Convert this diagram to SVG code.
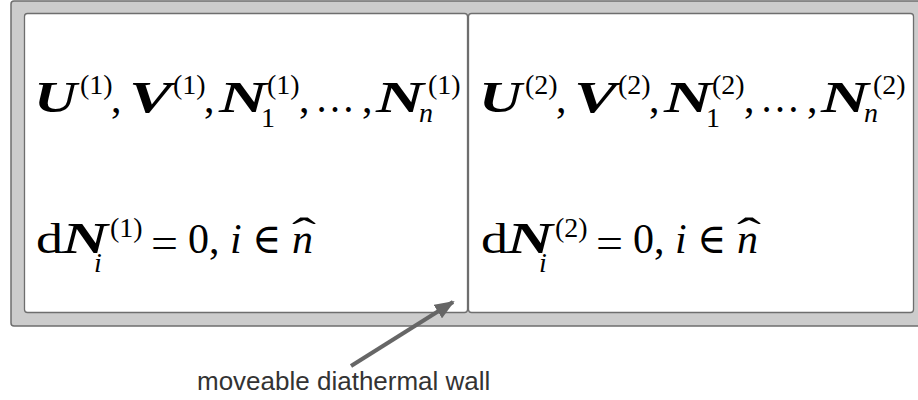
<svg xmlns="http://www.w3.org/2000/svg" width="918" height="400" viewBox="0 0 918 400">
<defs>
<style>
.frame{fill:#cccccc;stroke:#6e6e6e;stroke-width:1.5}
.box{fill:#ffffff;stroke:#6e6e6e;stroke-width:1.3}
.m{font-family:"Liberation Serif","DejaVu Serif",serif;fill:#000}
.bi{font-weight:bold;font-style:italic;font-size:44px}
.rm{font-size:42px}
.it{font-style:italic;font-size:42px}
.nost{font-style:normal}
.sup{font-size:28px}
.sit{font-style:italic;font-size:28px}
.lbl{font-family:"Liberation Sans",Arial,sans-serif;font-size:26px;fill:#333}
.arrow{stroke:#666;stroke-width:4;fill:none}
</style>
<marker id="ah" markerUnits="userSpaceOnUse" markerWidth="22" markerHeight="16" refX="18" refY="8" orient="auto">
<path d="M0,0 L20,8 L0,16 Z" fill="#666"/>
</marker>
</defs>
<g id="container">
<rect class="frame" x="11" y="1" width="925" height="325" rx="3"/>
</g>
<g id="subsystem1">
<rect class="box" x="24.5" y="13.5" width="443" height="299" rx="3"/>
<g class="m">
<text class="bi" x="34" y="112" textLength="43" lengthAdjust="spacingAndGlyphs">U</text>
<text class="sup" x="80" y="94">(1)</text>
<text class="rm" x="111" y="112">,</text>
<text class="bi" x="129" y="112" textLength="43" lengthAdjust="spacingAndGlyphs">V</text>
<text class="sup" x="173" y="94">(1)</text>
<text class="rm" x="204" y="112">,</text>
<text class="bi" x="219" y="112" textLength="48" lengthAdjust="spacingAndGlyphs">N</text>
<text class="sup" x="267" y="94">(1)</text>
<text class="sup" x="261" y="127">1</text>
<text class="rm" x="299" y="112">,</text>
<text class="rm" x="315" y="112" textLength="40" lengthAdjust="spacingAndGlyphs">…</text>
<text class="rm" x="362" y="112">,</text>
<text class="bi" x="376" y="112" textLength="48" lengthAdjust="spacingAndGlyphs">N</text>
<text class="sup" x="428" y="94">(1)</text>
<text class="sit" x="419" y="122">n</text>
<text class="rm" x="36" y="253" textLength="27" lengthAdjust="spacingAndGlyphs">d</text>
<text class="bi" x="62" y="253" textLength="46" lengthAdjust="spacingAndGlyphs">N</text>
<text class="sup" x="110" y="237">(1)</text>
<text class="sit" x="94" y="272">i</text>
<text class="rm" x="151" y="257" textLength="27" lengthAdjust="spacingAndGlyphs">=</text>
<text class="rm" x="188" y="253">0,</text>
<text class="it" x="230" y="253">i</text>
<text class="rm" x="252" y="253" textLength="29" lengthAdjust="spacingAndGlyphs">∈</text>
<text class="it" y="253"><tspan x="292">n</tspan><tspan class="nost" x="292" y="247" textLength="24" lengthAdjust="spacingAndGlyphs">ˆ</tspan></text>
</g>
</g>
<g id="subsystem2">
<rect class="box" x="468.5" y="13.5" width="445" height="299" rx="3"/>
<g class="m" transform="translate(445,0)">
<text class="bi" x="34" y="112" textLength="43" lengthAdjust="spacingAndGlyphs">U</text>
<text class="sup" x="80" y="94">(2)</text>
<text class="rm" x="111" y="112">,</text>
<text class="bi" x="129" y="112" textLength="43" lengthAdjust="spacingAndGlyphs">V</text>
<text class="sup" x="173" y="94">(2)</text>
<text class="rm" x="204" y="112">,</text>
<text class="bi" x="219" y="112" textLength="48" lengthAdjust="spacingAndGlyphs">N</text>
<text class="sup" x="267" y="94">(2)</text>
<text class="sup" x="261" y="127">1</text>
<text class="rm" x="299" y="112">,</text>
<text class="rm" x="315" y="112" textLength="40" lengthAdjust="spacingAndGlyphs">…</text>
<text class="rm" x="362" y="112">,</text>
<text class="bi" x="376" y="112" textLength="48" lengthAdjust="spacingAndGlyphs">N</text>
<text class="sup" x="428" y="94">(2)</text>
<text class="sit" x="419" y="122">n</text>
<text class="rm" x="36" y="253" textLength="27" lengthAdjust="spacingAndGlyphs">d</text>
<text class="bi" x="62" y="253" textLength="46" lengthAdjust="spacingAndGlyphs">N</text>
<text class="sup" x="110" y="237">(2)</text>
<text class="sit" x="94" y="272">i</text>
<text class="rm" x="151" y="257" textLength="27" lengthAdjust="spacingAndGlyphs">=</text>
<text class="rm" x="188" y="253">0,</text>
<text class="it" x="230" y="253">i</text>
<text class="rm" x="252" y="253" textLength="29" lengthAdjust="spacingAndGlyphs">∈</text>
<text class="it" y="253"><tspan x="292">n</tspan><tspan class="nost" x="292" y="247" textLength="24" lengthAdjust="spacingAndGlyphs">ˆ</tspan></text>
</g>
</g>
<g id="connectors">
<line class="arrow" x1="351" y1="366" x2="453" y2="302" marker-end="url(#ah)"/>
</g>
<g id="label">
<text class="lbl" x="197" y="390">moveable diathermal wall</text>
</g>
</svg>
